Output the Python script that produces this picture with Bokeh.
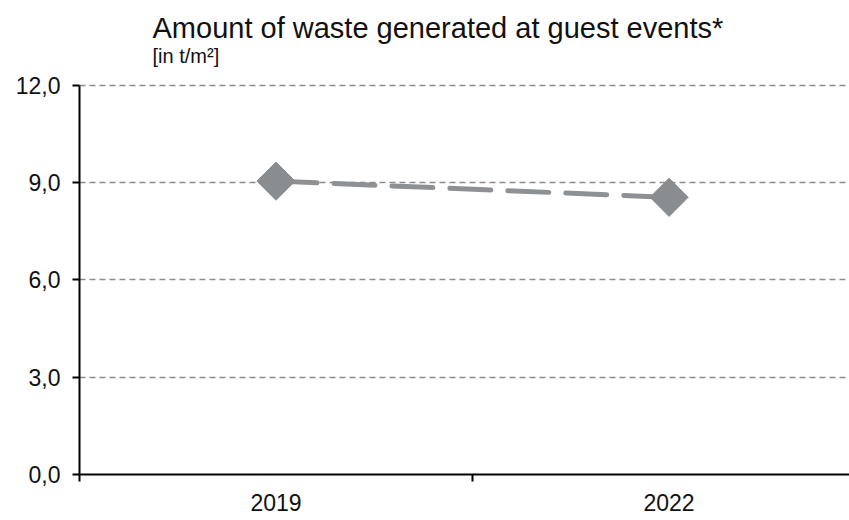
import math
from bokeh.plotting import figure
from bokeh.models import FixedTicker, Range1d
from bokeh.core.properties import value
from bokeh.embed import file_html
from bokeh.resources import INLINE

years = ["2019", "2022"]
waste = [9.05, 8.55]
y_ticks = [0, 3, 6, 9, 12]
y_labels = ["0,0", "3,0", "6,0", "9,0", "12,0"]
title_text = "Amount of waste generated at guest events*"
subtitle_text = "[in t/m²]"

xpos = [0.5 + i for i in range(len(years))]

# frame spans the whole canvas height above the x axis; the title area sits above y=12
Y_TOP = 14.622
p = figure(width=849, height=520, output_backend="svg", toolbar_location=None,
           x_range=Range1d(0, 1.959), y_range=Range1d(0, Y_TOP),
           min_border_left=79, min_border_right=0, min_border_bottom=46, min_border_top=0)
p.outline_line_color = None
p.background_fill_color = "white"

# titles (placed in the empty band above the 12,0 gridline)
p.text(x=[0.1858], y=[13.78], text=[title_text], text_font=value("Liberation Sans"),
       text_font_size="29px", text_color="#111111", text_baseline="alphabetic", text_align="left")
p.text(x=[0.1858], y=[12.90], text=[subtitle_text], text_font=value("Liberation Sans"),
       text_font_size="20px", text_color="#111111", text_baseline="alphabetic", text_align="left")

# axes
p.xaxis.ticker = FixedTicker(ticks=xpos, minor_ticks=[0, 1, 2])
p.xaxis.major_label_overrides = {x: y for x, y in zip(xpos, years)}
p.xaxis.major_tick_out = 0
p.xaxis.major_tick_in = 0
p.xaxis.minor_tick_out = 7
p.xaxis.minor_tick_in = 0
p.xaxis.minor_tick_line_color = "black"
p.xaxis.minor_tick_line_width = 2
p.xaxis.axis_line_color = "black"
p.xaxis.axis_line_width = 2
p.xaxis.major_label_text_font = "Liberation Sans"
p.xaxis.major_label_text_font_size = "23px"
p.xaxis.major_label_text_color = "#111111"
p.xaxis.major_label_standoff = 12

p.yaxis.ticker = FixedTicker(ticks=y_ticks, minor_ticks=[])
p.yaxis.bounds = (0, 12)
p.yaxis.major_label_overrides = {t: l for t, l in zip(y_ticks, y_labels)}
p.yaxis.major_tick_out = 7
p.yaxis.major_tick_in = 0
p.yaxis.major_tick_line_width = 2
p.yaxis.major_tick_line_color = "black"
p.yaxis.axis_line_color = "black"
p.yaxis.axis_line_width = 2
p.yaxis.major_label_text_font = "Liberation Sans"
p.yaxis.major_label_text_font_size = "23px"
p.yaxis.major_label_text_color = "#111111"
p.yaxis.major_label_standoff = 12

p.xgrid.grid_line_color = None
p.ygrid.grid_line_color = "#8c8c8c"
p.ygrid.grid_line_dash = "6 4"
p.ygrid.grid_line_width = 1.3

p.line(xpos, waste, line_color="#8e9194", line_width=5, line_dash="41 17", line_cap="round")
p.scatter(xpos, waste, marker="square", size=27, angle=math.pi / 4,
          fill_color="#8a8d90", line_color="#8a8d90")

open("out.html", "w").write(file_html(p, INLINE))
